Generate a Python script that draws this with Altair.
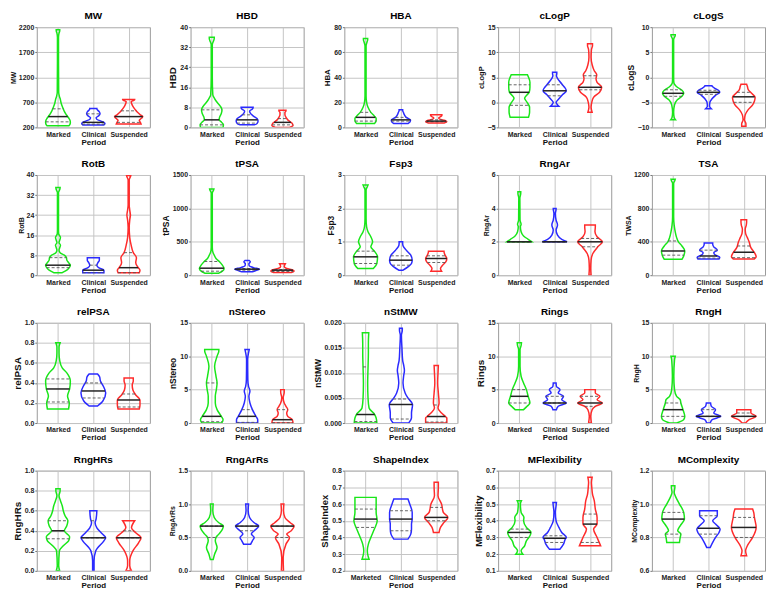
import altair as alt
import numpy as np
import pandas as pd

GROUPS = ["Marked", "Clinical", "Suspended"]
COLORS = ["#19e619", "#2b2bff", "#ff2b2b"]

# violin outlines: (value, half-width in category units)
MW_MK = [(232,.31),(260,.34),(300,.35),(340,.34),(380,.31),(420,.27),(470,.22),(520,.18),(570,.15),(620,.12),(680,.09),(750,.07),(820,.04),(900,.02),(1500,.015),(2000,.015),(2080,.03),(2130,.05),(2150,.05)]
MW_CL = [(248,.3),(270,.33),(300,.3),(330,.2),(360,.1),(395,.08),(430,.15),(470,.19),(510,.17),(545,.12),(565,.1),(578,.1)]
MW_SU = [(265,.35),(300,.33),(340,.3),(380,.36),(415,.4),(450,.33),(500,.25),(560,.18),(620,.12),(680,.08),(715,.07),(740,.15),(752,.17),(756,.17)]
MW_Q = [(310,415,570),(265,300,470),(300,415,530)]

HBD_MK = [(0,.32),(1,.33),(2,.28),(3,.21),(4,.22),(5.5,.27),(7,.29),(8.5,.24),(10,.15),(11.5,.08),(13,.03),(20,.015),(33,.015),(34.5,.05),(35.5,.07),(36,.07)]
HBD_CL = [(1,.2),(1.5,.28),(2.5,.31),(3.5,.28),(4.5,.18),(5.5,.1),(6.5,.07),(7.3,.15),(7.8,.17),(8,.17)]
HBD_SU = [(0,.2),(0.7,.3),(1.5,.28),(2.2,.22),(3,.15),(4,.1),(5,.07),(6,.07),(6.5,.1),(6.8,.1)]
HBD_Q = [(1,3,7),(1.7,3,5),(1,2,3.5)]

HBA_MK = [(3,.25),(5,.3),(7,.3),(9,.25),(12,.15),(16,.07),(20,.03),(25,.015),(65,.015),(68,.04),(70,.06),(71,.06)]
HBA_CL = [(3,.2),(5,.27),(6,.27),(8,.15),(10,.1),(12,.07),(13.5,.05),(14,.05)]
HBA_SU = [(3.5,.22),(4.5,.3),(5.5,.25),(6.5,.1),(7.5,.07),(8.5,.12),(9.5,.16),(10,.16)]
HBA_Q = [(5,8,12),(5,6,8),(4.5,5,6)]

CLOGP_MK = [(-3,.26),(-2,.29),(-1,.29),(0,.22),(0.8,.15),(1.5,.22),(2,.28),(3,.3),(4,.3),(5,.26),(5.5,.23)]
CLOGP_CL = [(-0.8,.12),(-0.4,.07),(0,.04),(0.7,.12),(1.5,.22),(2.3,.33),(3,.28),(3.5,.22),(4.2,.14),(4.8,.08),(5.3,.05),(5.7,.06),(6,.06)]
CLOGP_SU = [(-2,.06),(-1,.03),(0,.05),(1,.1),(2,.27),(3,.33),(4,.2),(4.7,.17),(5.5,.19),(6.3,.12),(7.5,.06),(9,.03),(10.5,.04),(11.3,.07),(11.7,.07)]
CLOGP_Q = [(-0.6,2,3.5),(1.3,2.3,3.5),(2.5,3,5.3)]

CLOGS_MK = [(-8.5,.07),(-8,.03),(-7,.015),(-5.5,.04),(-4.5,.12),(-3.8,.25),(-3.2,.3),(-2.6,.25),(-2,.12),(-1.5,.05),(-1,.02),(0,.015),(7.5,.015),(8,.04),(8.3,.06),(8.5,.06)]
CLOGS_CL = [(-6.3,.08),(-5.8,.03),(-5,.04),(-4.3,.1),(-3.6,.2),(-3,.32),(-2.6,.28),(-2.2,.18),(-1.9,.12),(-1.7,.1)]
CLOGS_SU = [(-9.8,.06),(-9.3,.06),(-8.5,.02),(-7.5,.04),(-6.5,.12),(-5.5,.25),(-4.8,.3),(-4,.32),(-3.2,.22),(-2.5,.13),(-1.8,.1),(-1.4,.08)]
CLOGS_Q = [(-3.8,-3.2,-2.5),(-3.4,-3,-2.6),(-5,-3.9,-3)]

ROTB_MK = [(1,.12),(2,.25),(3,.32),(4,.35),(5,.3),(6,.25),(7,.24),(8,.18),(9,.06),(10,.03),(11,.05),(12,.07),(13,.03),(14,.05),(15,.07),(16.5,.02),(18,.015),(33,.015),(34.2,.05),(35,.06)]
ROTB_CL = [(1,.3),(2,.3),(3,.15),(4,.1),(5,.13),(6,.17),(7,.17)]
ROTB_SU = [(1,.3),(2,.32),(3,.27),(5,.2),(7,.22),(9,.13),(12,.07),(15,.03),(19,.015),(22,.03),(24,.05),(26,.03),(28,.015),(38,.015),(39.3,.05),(39.8,.06)]
ROTB_Q = [(3,4,7),(1,2,4),(1,3,9)]

TPSA_MK = [(30,.2),(60,.3),(100,.35),(150,.3),(200,.22),(250,.12),(300,.07),(350,.03),(420,.015),(1230,.015),(1270,.05),(1290,.06)]
TPSA_CL = [(50,.15),(70,.25),(90,.35),(110,.2),(140,.06),(170,.05),(200,.09),(220,.06)]
TPSA_SU = [(40,.25),(60,.33),(75,.3),(100,.12),(130,.05),(150,.06),(170,.08)]
TPSA_Q = [(60,105,205),(75,90,100),(55,75,85)]

FSP3_MK = [(0.2,.22),(0.35,.32),(0.55,.34),(0.72,.25),(0.85,.15),(1.0,.2),(1.15,.15),(1.3,.07),(1.45,.03),(1.7,.015),(2.55,.015),(2.65,.05),(2.7,.07)]
FSP3_CL = [(0.15,.06),(0.25,.2),(0.35,.3),(0.45,.32),(0.6,.28),(0.75,.15),(0.88,.06),(0.95,.05),(1.0,.05)]
FSP3_SU = [(0.12,.15),(0.2,.12),(0.3,.18),(0.4,.27),(0.5,.3),(0.6,.25),(0.7,.22),(0.72,.22)]
FSP3_Q = [(0.35,0.55,0.72),(0.3,0.45,0.58),(0.38,0.5,0.58)]

RNGAR_MK = [(2,.35),(2.15,.25),(2.35,.12),(2.6,.05),(2.9,.03),(3.05,.05),(3.3,.02),(4.6,.015),(4.9,.04),(5,.04)]
RNGAR_CL = [(2,.35),(2.15,.2),(2.4,.08),(2.7,.04),(3.0,.08),(3.3,.04),(3.7,.02),(3.95,.04),(4.0,.04)]
RNGAR_SU = [(0,.03),(0.4,.02),(0.9,.03),(1.3,.08),(1.7,.22),(2,.35),(2.3,.2),(2.6,.14),(2.9,.15),(3,.15)]
RNGAR_Q = [(2,2,2),(2,2,2),(1.7,2,2.2)]

TSA_MK = [(190,.25),(230,.3),(290,.33),(350,.25),(400,.15),(450,.1),(520,.06),(600,.03),(700,.015),(1100,.015),(1135,.05),(1150,.06)]
TSA_CL = [(195,.3),(215,.32),(240,.2),(270,.15),(300,.25),(340,.15),(370,.12),(385,.12)]
TSA_SU = [(195,.3),(220,.35),(270,.3),(330,.2),(400,.15),(450,.1),(500,.05),(550,.04),(600,.07),(640,.08),(665,.08)]
TSA_Q = [(240,290,410),(205,230,300),(210,275,350)]

RELPSA_MK = [(0.14,.3),(0.2,.32),(0.27,.27),(0.34,.33),(0.42,.35),(0.5,.25),(0.55,.12),(0.62,.05),(0.7,.03),(0.76,.03),(0.8,.06)]
RELPSA_CL = [(0.17,.12),(0.22,.27),(0.3,.35),(0.37,.28),(0.42,.2),(0.46,.18),(0.49,.12)]
RELPSA_SU = [(0.14,.3),(0.18,.32),(0.23,.32),(0.28,.2),(0.33,.12),(0.38,.1),(0.42,.13),(0.45,.13)]
RELPSA_Q = [(0.21,0.34,0.44),(0.25,0.32,0.4),(0.16,0.23,0.29)]

NSTEREO_MK = [(0,.28),(0.5,.32),(1,.27),(2,.15),(3,.1),(4,.1),(5,.13),(6,.15),(7,.12),(8.5,.08),(10,.15),(10.8,.2),(11,.2)]
NSTEREO_CL = [(0,.3),(0.5,.3),(1,.25),(2,.15),(3,.08),(4,.05),(4.8,.08),(5.5,.04),(6.5,.02),(9.5,.015),(10.5,.04),(11,.06)]
NSTEREO_SU = [(0,.3),(0.5,.28),(1,.15),(1.5,.12),(2,.15),(2.5,.1),(3,.05),(3.8,.02),(4.6,.05),(5,.05)]
NSTEREO_Q = [(0.2,1,6),(0.1,1,2),(0.05,0.5,2)]

NSTMW_MK = [(0,.32),(0.001,.3),(0.0017,.26),(0.003,.1),(0.005,.07),(0.008,.06),(0.011,.07),(0.014,.08),(0.016,.08),(0.018,.09)]
NSTMW_CL = [(0,.22),(0.001,.3),(0.002,.3),(0.0037,.33),(0.005,.2),(0.006,.12),(0.008,.06),(0.0095,.08),(0.0105,.1),(0.0115,.08),(0.0125,.05),(0.015,.03),(0.0175,.015),(0.0185,.04),(0.0189,.04)]
NSTMW_SU = [(0,.3),(0.001,.3),(0.0013,.26),(0.002,.15),(0.003,.05),(0.004,.08),(0.006,.06),(0.008,.04),(0.01,.05),(0.0115,.06)]
NSTMW_Q = [(0.0003,0.0017,0.0112),(0.0008,0.0037,0.0048),(0.0002,0.0013,0.0036)]

RINGS_MK = [(2,.12),(2.5,.22),(3,.3),(4,.25),(5,.2),(6,.12),(7,.05),(8.5,.02),(11,.02),(11.6,.05),(12,.06)]
RINGS_CL = [(2,.05),(2.5,.1),(3,.33),(3.5,.2),(4,.25),(4.5,.1),(5,.15),(5.5,.05),(6,.04)]
RINGS_SU = [(0,.04),(1,.02),(2,.06),(2.5,.15),(3,.35),(3.5,.2),(4,.28),(4.5,.15),(5,.15)]
RINGS_Q = [(3,4,5),(3,3,4),(2.5,3,4)]

RNGH_MK = [(0,.1),(0.5,.3),(1,.33),(2,.28),(3,.22),(3.5,.2),(4,.1),(5,.04),(7,.02),(9.5,.04),(10,.06)]
RNGH_CL = [(0,.05),(0.5,.1),(1,.35),(1.5,.15),(2,.2),(2.5,.08),(3,.06)]
RNGH_SU = [(0,.05),(0.5,.15),(1,.35),(1.5,.2),(2,.2)]
RNGH_Q = [(1,2,3),(1,1,2),(1,1,1.5)]

RNGHRS_MK = [(0,.05),(0.05,.02),(0.2,.04),(0.25,.15),(0.3,.3),(0.34,.33),(0.4,.18),(0.45,.25),(0.5,.28),(0.55,.2),(0.6,.15),(0.65,.12),(0.7,.07),(0.75,.03),(0.8,.06),(0.82,.06)]
RNGHRS_CL = [(0,.02),(0.1,.02),(0.2,.07),(0.3,.3),(0.33,.35),(0.37,.25),(0.43,.1),(0.48,.05),(0.52,.08),(0.6,.1)]
RNGHRS_SU = [(0,.08),(0.05,.03),(0.1,.03),(0.2,.12),(0.28,.28),(0.33,.35),(0.38,.2),(0.43,.08),(0.5,.17)]
RNGHRS_Q = [(0.32,0.4,0.5),(0.33,0.33,0.5),(0.33,0.33,0.4)]

RNGARRS_MK = [(0.17,.04),(0.25,.08),(0.35,.15),(0.45,.1),(0.5,.12),(0.55,.2),(0.62,.3),(0.67,.33),(0.72,.2),(0.8,.07),(0.9,.03),(1.0,.04)]
RNGARRS_CL = [(0.4,.1),(0.45,.15),(0.5,.2),(0.55,.12),(0.6,.2),(0.67,.33),(0.72,.2),(0.8,.07),(0.9,.03),(1.0,.04)]
RNGARRS_SU = [(0,.03),(0.2,.02),(0.4,.1),(0.5,.2),(0.55,.12),(0.6,.25),(0.67,.33),(0.72,.22),(0.8,.07),(0.9,.03),(1.0,.04)]
RNGARRS_Q = [(0.5,0.67,0.67),(0.6,0.67,0.67),(0.5,0.67,0.67)]

SHAPE_MK = [(0.27,.1),(0.29,.07),(0.32,.05),(0.36,.08),(0.4,.15),(0.45,.25),(0.5,.33),(0.55,.3),(0.6,.3),(0.64,.3)]
SHAPE_CL = [(0.39,.2),(0.42,.28),(0.45,.3),(0.48,.3),(0.51,.32),(0.55,.32),(0.6,.25),(0.63,.2)]
SHAPE_SU = [(0.43,.08),(0.46,.12),(0.49,.22),(0.52,.33),(0.55,.2),(0.6,.15),(0.65,.05),(0.7,.06),(0.73,.06)]
SHAPE_Q = [(0.46,0.51,0.57),(0.44,0.51,0.56),(0.5,0.52,0.58)]

MFLEX_MK = [(0.2,.1),(0.22,.05),(0.25,.15),(0.28,.2),(0.31,.3),(0.33,.33),(0.36,.2),(0.4,.12),(0.42,.13),(0.45,.05),(0.5,.03),(0.52,.06)]
MFLEX_CL = [(0.23,.15),(0.26,.25),(0.29,.3),(0.3,.33),(0.33,.2),(0.36,.12),(0.4,.04),(0.45,.02),(0.49,.04),(0.51,.05)]
MFLEX_SU = [(0.25,.3),(0.3,.2),(0.35,.1),(0.38,.2),(0.42,.2),(0.47,.15),(0.52,.12),(0.56,.07),(0.6,.05),(0.63,.04),(0.66,.06)]
MFLEX_Q = [(0.3,0.33,0.35),(0.27,0.295,0.31),(0.27,0.38,0.44)]

MCOMP_MK = [(0.77,.18),(0.8,.2),(0.82,.22),(0.84,.13),(0.87,.2),(0.91,.32),(0.95,.3),(1.0,.18),(1.04,.08),(1.07,.03),(1.1,.05),(1.11,.05)]
MCOMP_CL = [(0.74,.05),(0.77,.12),(0.8,.2),(0.83,.3),(0.85,.33),(0.88,.2),(0.9,.12),(0.93,.25),(0.96,.25)]
MCOMP_SU = [(0.69,.08),(0.72,.05),(0.75,.1),(0.8,.25),(0.86,.35),(0.92,.3),(0.95,.28),(0.97,.25)]
MCOMP_Q = [(0.82,0.91,0.95),(0.82,0.855,0.93),(0.8,0.86,0.92)]

# panel: title, y-title, y domain, ticks, format, y-title size, first label
PANELS = [
    ("MW", "MW", [200, 2200], [200, 700, 1200, 1700, 2200], "d", 7, "Marked", (MW_MK, MW_CL, MW_SU), MW_Q),
    ("HBD", "HBD", [0, 40], [0, 8, 16, 24, 32, 40], "d", 10, "Marked", (HBD_MK, HBD_CL, HBD_SU), HBD_Q),
    ("HBA", "HBA", [0, 80], [0, 20, 40, 60, 80], "d", 8, "Marked", (HBA_MK, HBA_CL, HBA_SU), HBA_Q),
    ("cLogP", "cLogP", [-5, 15], [-5, 0, 5, 10, 15], "d", 7.5, "Marked", (CLOGP_MK, CLOGP_CL, CLOGP_SU), CLOGP_Q),
    ("cLogS", "cLogS", [-10, 10], [-10, -5, 0, 5, 10], "d", 8.5, "Marked", (CLOGS_MK, CLOGS_CL, CLOGS_SU), CLOGS_Q),
    ("RotB", "RotB", [0, 40], [0, 8, 16, 24, 32, 40], "d", 7, "Marked", (ROTB_MK, ROTB_CL, ROTB_SU), ROTB_Q),
    ("tPSA", "tPSA", [0, 1500], [0, 500, 1000, 1500], "d", 8.5, "Marked", (TPSA_MK, TPSA_CL, TPSA_SU), TPSA_Q),
    ("Fsp3", "Fsp3", [0, 3], [0, 1, 2, 3], "d", 8.5, "Marked", (FSP3_MK, FSP3_CL, FSP3_SU), FSP3_Q),
    ("RngAr", "RngAr", [0, 6], [0, 2, 4, 6], "d", 7, "Marked", (RNGAR_MK, RNGAR_CL, RNGAR_SU), RNGAR_Q),
    ("TSA", "TWSA", [0, 1200], [0, 400, 800, 1200], "d", 7, "Marked", (TSA_MK, TSA_CL, TSA_SU), TSA_Q),
    ("relPSA", "relPSA", [0, 1], [0, 0.2, 0.4, 0.6, 0.8, 1.0], ".1f", 10, "Marked", (RELPSA_MK, RELPSA_CL, RELPSA_SU), RELPSA_Q),
    ("nStereo", "nStereo", [0, 15], [0, 5, 10, 15], "d", 8.5, "Marked", (NSTEREO_MK, NSTEREO_CL, NSTEREO_SU), NSTEREO_Q),
    ("nStMW", "nStMW", [0, 0.02], [0, 0.005, 0.01, 0.015, 0.02], ".3f", 8.5, "Marked", (NSTMW_MK, NSTMW_CL, NSTMW_SU), NSTMW_Q),
    ("Rings", "Rings", [0, 15], [0, 5, 10, 15], "d", 10, "Marked", (RINGS_MK, RINGS_CL, RINGS_SU), RINGS_Q),
    ("RngH", "RngH", [0, 15], [0, 5, 10, 15], "d", 7, "Marked", (RNGH_MK, RNGH_CL, RNGH_SU), RNGH_Q),
    ("RngHRs", "RngHRs", [0, 1], [0, 0.2, 0.4, 0.6, 0.8, 1.0], ".1f", 10, "Marked", (RNGHRS_MK, RNGHRS_CL, RNGHRS_SU), RNGHRS_Q),
    ("RngArRs", "RngArRs", [0, 1.5], [0, 0.5, 1.0, 1.5], ".1f", 7, "Marked", (RNGARRS_MK, RNGARRS_CL, RNGARRS_SU), RNGARRS_Q),
    ("ShapeIndex", "ShapeIndex", [0.2, 0.8], [0.2, 0.3, 0.4, 0.5, 0.6, 0.7, 0.8], ".1f", 9.5, "Marketed", (SHAPE_MK, SHAPE_CL, SHAPE_SU), SHAPE_Q),
    ("MFlexibility", "MFlexibility", [0.1, 0.7], [0.1, 0.2, 0.3, 0.4, 0.5, 0.6, 0.7], ".1f", 9.5, "Marked", (MFLEX_MK, MFLEX_CL, MFLEX_SU), MFLEX_Q),
    ("MComplexity", "MComplexity", [0.6, 1.2], [0.6, 0.8, 1.0, 1.2], ".1f", 7, "Marked", (MCOMP_MK, MCOMP_CL, MCOMP_SU), MCOMP_Q),
]

FONT = "Liberation Sans"
W, H = 114, 101


def make_panel(title, ytitle, dom, ticks, fmt, yts, first, profiles, quarts):
    rows, qrows = [], []
    for i, (g, prof) in enumerate(zip(GROUPS, profiles)):
        pos = i + 1
        vals = np.array([p[0] for p in prof], dtype=float)
        wid = np.array([p[1] for p in prof], dtype=float)
        for v, w in zip(vals, wid):
            rows.append({"group": g, "y": v, "xlo": pos - w, "xhi": pos + w})
        for k, q in enumerate(quarts[i]):
            hw = float(np.interp(q, vals, wid))
            qrows.append({"group": g, "y": q, "xlo": pos - hw, "xhi": pos + hw,
                          "kind": "med" if k == 1 else "q"})
    df = pd.DataFrame(rows)
    qdf = pd.DataFrame(qrows)

    xenc = alt.X("xlo:Q", scale=alt.Scale(domain=[0.4, 3.6], nice=False, zero=False),
                 axis=alt.Axis(values=[1, 2, 3], title="Period", grid=True, ticks=False,
                               domain=False, labelFontSize=7, labelFontWeight="bold",
                               labelPadding=3, titleFontSize=8, titleFontWeight="bold",
                               titlePadding=1,
                               labelExpr=f"datum.value == 1 ? '{first}' : datum.value == 2 ? 'Clinical' : 'Suspended'"))
    yenc = alt.Y("y:Q", scale=alt.Scale(domain=dom, nice=False, zero=False),
                 axis=alt.Axis(values=ticks, format=fmt, title=ytitle, grid=True,
                               domain=False, tickSize=2, labelFontSize=7,
                               labelFontWeight="bold", labelPadding=1,
                               titleFontSize=yts, titleFontWeight="bold", titlePadding=2))
    stroke = alt.Stroke("group:N", scale=alt.Scale(domain=GROUPS, range=COLORS), legend=None)

    areas = alt.Chart(df).mark_area(
        orient="horizontal", interpolate="monotone", fillOpacity=0, strokeWidth=1.5,
        clip=True
    ).encode(y=yenc, x=xenc, x2="xhi:Q", stroke=stroke, detail="group:N")

    qlines = alt.Chart(qdf).transform_filter("datum.kind == 'q'").mark_rule(
        color="#555555", strokeWidth=0.9, strokeDash=[3, 2]
    ).encode(y=yenc, x=xenc, x2="xhi:Q")

    medians = alt.Chart(qdf).transform_filter("datum.kind == 'med'").mark_rule(
        color="#222222", strokeWidth=1.5
    ).encode(y=yenc, x=xenc, x2="xhi:Q")

    return alt.layer(areas, qlines, medians).properties(
        width=W, height=H,
        title=alt.TitleParams(title, fontSize=10, fontWeight="bold", offset=2, font=FONT),
    )


panels = [make_panel(*p) for p in PANELS]

chart = alt.concat(
    *panels, columns=5, spacing={"row": 48, "column": 41}, bounds="flush"
).properties(padding=0).configure_view(
    stroke="#9a9a9a", strokeWidth=1
).configure_axis(
    gridColor="#c4c4c4", gridWidth=1, tickColor="#777777", labelColor="#222222",
    titleColor="#111111", labelFont=FONT, titleFont=FONT
)

chart.save("out.html", embed_options={"renderer": "svg", "actions": False})
